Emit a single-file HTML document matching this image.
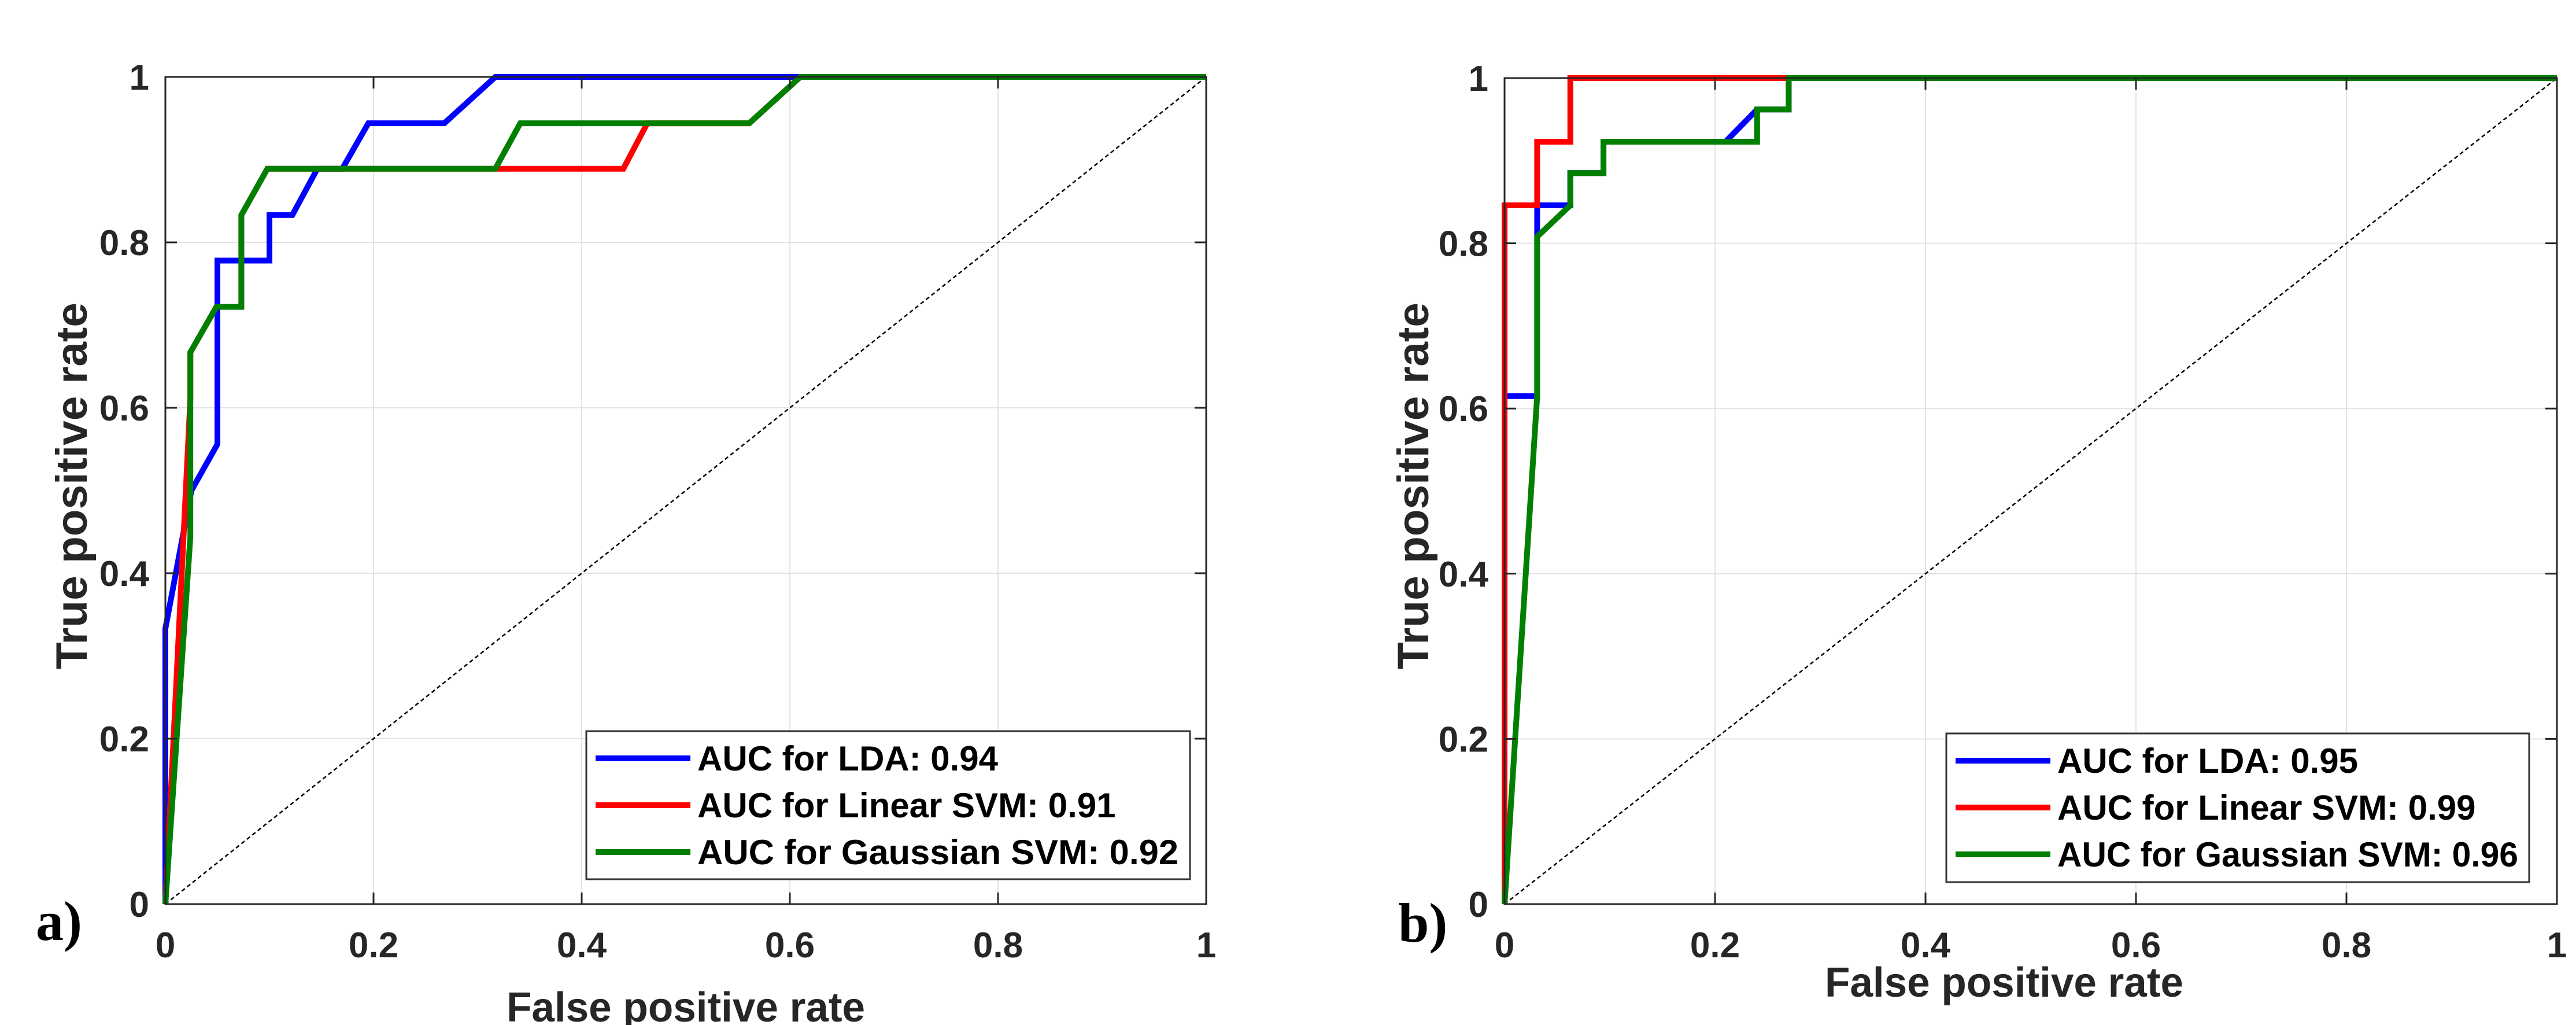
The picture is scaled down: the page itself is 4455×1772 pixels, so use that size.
<!DOCTYPE html>
<html><head><meta charset="utf-8"><style>
html,body{margin:0;padding:0;background:#fff;}
svg{display:block;font-family:"Liberation Sans",Arial,sans-serif;}
</style></head><body>
<svg id="chart" width="4455" height="1772" viewBox="0 0 4455 1772" xmlns="http://www.w3.org/2000/svg"></svg>
<script>
const ticks = [0, 0.2, 0.4, 0.6, 0.8, 1];
const tickLabels = ["0", "0.2", "0.4", "0.6", "0.8", "1"];
const seriesNames = ["LDA", "Linear SVM", "Gaussian SVM"];
const aucA = ["0.94", "0.91", "0.92"];
const aucB = ["0.95", "0.99", "0.96"];
const ldaA_x = [0, 0, 0.025, 0.05, 0.05, 0.1, 0.1, 0.122, 0.146, 0.17, 0.195, 0.268, 0.317, 1];
const ldaA_y = [0, 0.333, 0.5, 0.556, 0.778, 0.778, 0.833, 0.833, 0.889, 0.889, 0.944, 0.944, 1, 1];
const linA_x = [0, 0.024, 0.024, 0.049, 0.073, 0.073, 0.098, 0.44, 0.463, 0.561, 0.61, 1];
const linA_y = [0, 0.611, 0.667, 0.722, 0.722, 0.833, 0.889, 0.889, 0.944, 0.944, 1, 1];
const gauA_x = [0, 0.024, 0.024, 0.049, 0.073, 0.073, 0.098, 0.317, 0.341, 0.561, 0.61, 1];
const gauA_y = [0, 0.444, 0.667, 0.722, 0.722, 0.833, 0.889, 0.889, 0.944, 0.944, 1, 1];
const ldaB_x = [0, 0, 0.031, 0.031, 0.0625, 0.0625, 0.094, 0.094, 0.21, 0.24, 0.27, 0.27, 1];
const ldaB_y = [0, 0.615, 0.615, 0.846, 0.846, 0.885, 0.885, 0.923, 0.923, 0.962, 0.962, 1, 1];
const linB_x = [0, 0, 0.031, 0.031, 0.0625, 0.0625, 1];
const linB_y = [0, 0.846, 0.846, 0.923, 0.923, 1, 1];
const gauB_x = [0, 0.031, 0.031, 0.0625, 0.0625, 0.094, 0.094, 0.24, 0.24, 0.27, 0.27, 1];
const gauB_y = [0, 0.615, 0.808, 0.846, 0.885, 0.885, 0.923, 0.923, 0.962, 0.962, 1, 1];

const NS = "http://www.w3.org/2000/svg";
const svg = document.getElementById('chart');
function mk(tag, attrs, parent) {
  const e = document.createElementNS(NS, tag);
  for (const k in attrs) e.setAttribute(k, attrs[k]);
  (parent || svg).appendChild(e);
  return e;
}
const colors = ["#0000ff", "#ff0000", "#007f00"];

function panel(cfg) {
  const g = mk('g', {});
  
  
  const X = v => cfg.x0 + v * (cfg.x1 - cfg.x0);
  const Y = v => cfg.y0 - v * (cfg.y0 - cfg.y1);
  // grid
  ticks.forEach((t, i) => {
    if (i > 0 && i < ticks.length - 1) {
      const gv = mk('line', {x1: X(t), x2: X(t), y1: cfg.y1, y2: cfg.y0, stroke: '#e3e3e3', 'stroke-width': 2}, g);
      
      
      const gh = mk('line', {x1: cfg.x0, x2: cfg.x1, y1: Y(t), y2: Y(t), stroke: '#e3e3e3', 'stroke-width': 2}, g);
      
      
    }
  });
  // diagonal
  const d = mk('line', {x1: X(0), y1: Y(0), x2: X(1), y2: Y(1), stroke: '#000', 'stroke-width': 2.5, 'stroke-dasharray': '7 5'}, g);
  
  
  // series
  cfg.series.forEach((s, i) => {
    const pts = s.x.map((v, j) => X(v) + ',' + Y(s.y[j])).join(' ');
    const p = mk('polyline', {points: pts, fill: 'none', stroke: colors[i], 'stroke-width': 10, 'stroke-linejoin': 'miter'}, g);
    
    
  });
  // axes box
  const box = mk('rect', {x: cfg.x0, y: cfg.y1, width: cfg.x1 - cfg.x0, height: cfg.y0 - cfg.y1, fill: 'none', stroke: '#262626', 'stroke-width': 3}, g);
  
  
  // ticks & labels
  ticks.forEach((t, i) => {
    [[X(t), cfg.y0, X(t), cfg.y0 - 20], [X(t), cfg.y1, X(t), cfg.y1 + 20], [cfg.x0, Y(t), cfg.x0 + 20, Y(t)], [cfg.x1, Y(t), cfg.x1 - 20, Y(t)]].forEach(c => {
      const tk = mk('line', {x1: c[0], y1: c[1], x2: c[2], y2: c[3], stroke: '#262626', 'stroke-width': 3}, g);
      
      
    });
    const tx = mk('text', {x: X(t), y: cfg.y0 + 92, 'font-size': 62, 'font-weight': 'bold', 'text-anchor': 'middle', fill: '#262626'}, g);
    tx.textContent = tickLabels[i];
    
    
    const ty = mk('text', {x: cfg.x0 - 28, y: Y(t) + 22, 'font-size': 62, 'font-weight': 'bold', 'text-anchor': 'end', fill: '#262626'}, g);
    ty.textContent = tickLabels[i];
    
    
  });
  // axis titles
  const xt = mk('text', {x: cfg.xtX, y: cfg.xtY, 'font-size': 72, 'font-weight': 'bold', 'text-anchor': 'middle', fill: '#262626', textLength: 620, lengthAdjust: 'spacingAndGlyphs'}, g);
  xt.textContent = 'False positive rate';
  
  
  const yt = mk('text', {x: 0, y: 0, 'font-size': 76, 'font-weight': 'bold', 'text-anchor': 'middle', fill: '#262626', textLength: 634, lengthAdjust: 'spacingAndGlyphs', transform: 'translate(' + cfg.ytX + ',840) rotate(-90)'}, g);
  yt.textContent = 'True positive rate';
  
  
  // panel letter
  const pl = mk('text', {x: cfg.plX, y: cfg.plY, 'font-size': 96, 'font-weight': 'bold', fill: '#000', 'font-family': '"Liberation Serif", serif'}, g);
  pl.textContent = cfg.letter;
  
  
  // legend
  const lg = mk('g', {}, g);
  
  
  const L = cfg.leg;
  mk('rect', {x: L.x, y: L.y, width: L.w, height: L.h, fill: '#fff', stroke: '#333', 'stroke-width': 3}, lg);
  seriesNames.forEach((n, i) => {
    const ry = L.y + 47 + i * 81;
    const e = mk('g', {}, lg);
    
    
    mk('line', {x1: L.x + 16, x2: L.x + 180, y1: ry, y2: ry, stroke: colors[i], 'stroke-width': 10}, e);
    const t = mk('text', {x: L.x + 192, y: ry + 21, 'font-size': 60, 'font-weight': 'bold', fill: '#000'}, e);
    t.textContent = 'AUC for ' + n + ': ' + cfg.auc[i];
    if (i === 2) { t.setAttribute('textLength', L.tw); t.setAttribute('lengthAdjust', 'spacingAndGlyphs'); }
  });
}

panel({name: 'roc-panel-a', x0: 286, x1: 2086, y1: 133, y0: 1563, letter: 'a)', plX: 62, plY: 1625,
  xtX: 1186, xtY: 1766, ytX: 150, auc: aucA,
  leg: {x: 1014, y: 1264, w: 1044, h: 256, tw: 832},
  series: [{x: ldaA_x, y: ldaA_y}, {x: linA_x, y: linA_y}, {x: gauA_x, y: gauA_y}]});
panel({name: 'roc-panel-b', x0: 2602, x1: 4422, y1: 135, y0: 1563, letter: 'b)', plX: 2418, plY: 1628,
  xtX: 3466, xtY: 1723, ytX: 2470, auc: aucB,
  leg: {x: 3366, y: 1268, w: 1008, h: 257, tw: 797},
  series: [{x: ldaB_x, y: ldaB_y}, {x: linB_x, y: linB_y}, {x: gauB_x, y: gauB_y}]});
</script>
</body></html>
